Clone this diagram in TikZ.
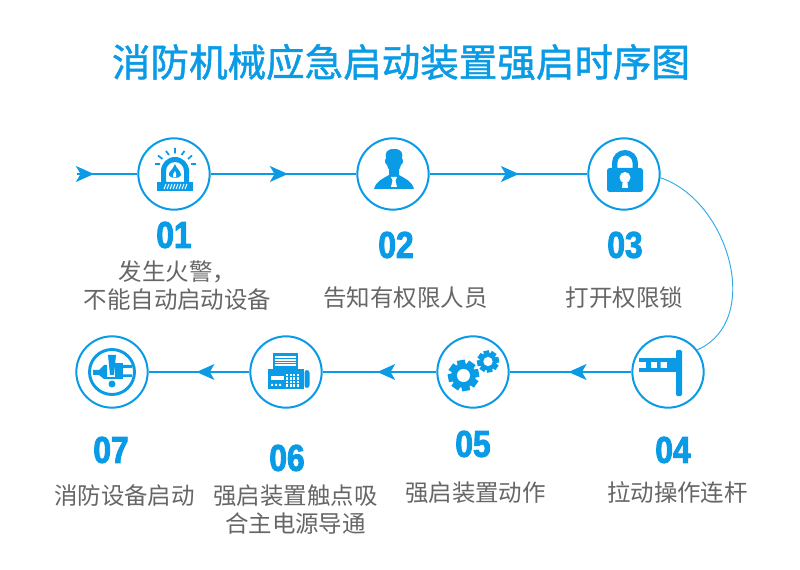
\documentclass[tikz,border=0pt]{standalone}
\usepackage{fontspec}
\usetikzlibrary{arrows.meta, decorations.markings}

\newfontfamily\titlefont[FakeBold=1.2]{Noto Sans CJK SC}
\newfontfamily\labelfont{Noto Sans CJK SC}
\newfontfamily\numfont[FakeStretch=0.85,BoldFeatures={FakeBold=2.5}]{Liberation Sans}
\definecolor{mainblue}{HTML}{0A9BE6}
\definecolor{textgray}{HTML}{666666}

\tikzset{
  gear/.pic={
    \foreach \a in {0,45,...,315}{
      \fill[mainblue,rotate=\a+10] (-0.26*\gearsize,0) rectangle (0.26*\gearsize,\gearsize);
    }
    \fill[mainblue] (0,0) circle (0.8*\gearsize);
    \fill[white] (0,0) circle (0.42*\gearsize);
  }
}

\begin{document}
\begin{tikzpicture}[x=0.75pt,y=-0.75pt,
  stepnode/.style={circle,draw=mainblue,line width=1.5pt,fill=white,minimum size=53.5pt,inner sep=0pt},
  flowline/.style={draw=mainblue,line width=0.85pt,postaction={decorate},
    decoration={markings,mark=at position #1 with {\arrow{Stealth[length=13.5pt,width=12pt,inset=3.5pt,mainblue]}}}},
  curveline/.style={draw=mainblue!85,line width=0.7pt},
  numnode/.style={font=\numfont\bfseries\fontsize{28pt}{28pt}\selectfont,text=mainblue,inner sep=0pt},
  labelnode/.style={font=\labelfont\fontsize{17.6pt}{21pt}\selectfont,text=textgray,align=center,inner sep=0pt}]

  \useasboundingbox (0,0) rectangle (800,570);
  \fill[white] (0,0) rectangle (800,570);

  \node[font=\titlefont\fontsize{28.9pt}{30pt}\selectfont,text=mainblue,inner sep=0pt] (title) at (401,62) {消防机械应急启动装置强启时序图};

  % top row
  \coordinate (start) at (77,174);
  \node[stepnode] (n01) at (174,174) {};
  \node[stepnode, right of=n01, node distance=164.25pt] (n02) {};
  \node[stepnode, right of=n02, node distance=173.25pt] (n03) {};
  % bottom row
  \node[stepnode] (n04) at (668,372) {};
  \node[stepnode, left of=n04, node distance=146.25pt] (n05) {};
  \node[stepnode, left of=n05, node distance=140.25pt] (n06) {};
  \node[stepnode, left of=n06, node distance=130.5pt] (n07) {};

  \path[flowline=0.28] (start) -- (n01);
  \path[flowline=0.53] (n01) -- (n02);
  \path[flowline=0.566] (n02) -- (n03);
  \draw[curveline] (n03.-6) .. controls (728,200) and (764,320) .. (n04.37);
  \path[flowline=0.516] (n04) -- (n05);
  \path[flowline=0.52] (n05) -- (n06);
  \path[flowline=0.525] (n06) -- (n07);

  \node[numnode] (num01) at (174,235) {01};
  \node[numnode] (num02) at (396,245) {02};
  \node[numnode] (num03) at (625,245) {03};
  \node[numnode] (num04) at (673,450) {04};
  \node[numnode] (num05) at (473,444) {05};
  \node[numnode] (num06) at (287,458) {06};
  \node[numnode] (num07) at (111,450) {07};

  \node[labelnode] (lab01) at (177.5,286) {发生火警，\\不能自动启动设备};
  \node[labelnode] (lab02) at (405.5,298) {告知有权限人员};
  \node[labelnode] (lab03) at (624.5,298) {打开权限锁};
  \node[labelnode] (lab04) at (677.5,493) {拉动操作连杆};
  \node[labelnode] (lab05) at (475.5,493) {强启装置动作};
  \node[labelnode] (lab06) at (295.5,510) {强启装置触点吸\\合主电源导通};
  \node[labelnode] (lab07) at (124.5,496) {消防设备启动};

  % alarm
  \fill[mainblue] (157,182) rectangle (193,191);
  \fill[mainblue,even odd rule] (161,182) -- (161,171) arc (180:360:14) -- (189,182) -- cycle
    (166,182) -- (166,171) arc (180:360:9) -- (184,182) -- cycle;
  \fill[mainblue] (175,164) .. controls (176,168) and (181,171) .. (181,175) .. controls (180,179) and (170,179) .. (169,175) .. controls (168,172) and (173,170) .. cycle;
  \fill[white] (175,171) .. controls (176,173) and (177,175) .. (176,177.5) -- (173,177.5) .. controls (172,175) and (174,173) .. cycle;
  \draw[white,line width=0.7pt] (164,189) -- (166,184) (167,189) -- (169,184) (170,189) -- (172,184) (173,189) -- (175,184) (176,189) -- (178,184) (179,189) -- (181,184) (182,189) -- (184,184) (185,189) -- (187,184);
  \draw[mainblue,line width=1.3pt] (175,148) -- (175,153.5) (166,151) -- (169,155) (184.5,151) -- (181.5,155) (158,155.5) -- (162.5,159) (192,155.5) -- (188,159) (155,164) -- (160,164) (196,164) -- (191,164);

  % person
  \fill[mainblue] (394,149) .. controls (402,149) and (403,153) .. (402,159) .. controls (404,159) and (403,164) .. (401,165) .. controls (400,170) and (397,172) .. (394,172) .. controls (391,172) and (388,170) .. (387,165) .. controls (385,164) and (384,159) .. (386,159) .. controls (385,153) and (386,149) .. (394,149) -- cycle;
  \fill[mainblue] (374,189) .. controls (376,181) and (384,178) .. (389,175) -- (389,168) -- (399,168) -- (399,175) .. controls (404,178) and (412,181) .. (414,189) -- cycle;
  \fill[white] (391,177) -- (397,177) -- (395.5,180.5) -- (397,187) -- (391,187) -- (392.5,180.5) -- cycle;

  % lock
  \draw[mainblue,line width=4pt] (614.7,170) -- (614.7,163) arc (180:360:10.3) -- (635.3,170);
  \fill[mainblue,rounded corners=2pt] (607,168) rectangle (643,192);
  \fill[white] (625,177.5) circle (5.5);
  \fill[white] (622.8,180) -- (627.2,180) -- (628,188) -- (622,188) -- cycle;

  % lever
  \fill[mainblue,rounded corners=1pt] (676,350) rectangle (682,396);
  \fill[mainblue] (639,358) rectangle (676,362);
  \fill[mainblue] (639,368) rectangle (676,372);
  \fill[mainblue] (646,362) rectangle (651,368) (657,362) rectangle (660.5,368) (667,362) rectangle (676,368);

  % gears
  \def\gearsize{15.5}
  \pic at (463.5,375.5) {gear};
  \def\gearsize{11}
  \pic at (488,361.5) {gear};

  % fax
  \fill[mainblue] (273,353) rectangle (298,369);
  \fill[white] (275,356) rectangle (296,366.5);
  \draw[mainblue,line width=0.6pt] (275,358.5) -- (296,358.5) (275,361) -- (296,361) (275,363.5) -- (296,363.5);
  \fill[mainblue] (268,369) rectangle (304,389);
  \fill[mainblue,rounded corners=2pt] (304.5,370) rectangle (309.5,388);
  \fill[white] (271,376) rectangle (284,380);
  \fill[white] (271,384) rectangle (273,386) (275,384) rectangle (277,386) (279,384) rectangle (281,386);
  \foreach \x in {286,289.5,293,296.5}{
    \foreach \y in {374,377.5,381,384.5}{
      \fill[white] (\x,\y) rectangle (\x+2.2,\y+2.2);
    }
  }

  % plug in ring
  \draw[mainblue,line width=2.2pt] (112,372) circle (22.5);
  \fill[mainblue] (108,355) -- (116,355) -- (114,375) -- (110,375) -- cycle;
  \fill[mainblue] (112,384) circle (3.5);
  \fill[mainblue] (93,370) -- (99,370) -- (104,365) -- (107,365) -- (107,379) -- (104,379) -- (99,375) -- (93,375) -- cycle;
  \fill[mainblue] (115,363) -- (123,363) -- (123,379) -- (115,379) -- cycle;
  \fill[mainblue] (123,365) rectangle (132,368) (123,374.5) rectangle (132,377);
  \draw[mainblue,line width=1.1pt] (107,378) -- (115,378);
\end{tikzpicture}
\end{document}
